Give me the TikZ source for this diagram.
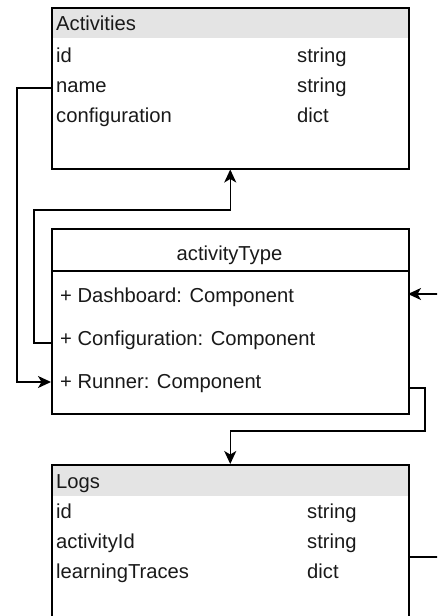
\documentclass[tikz,border=0pt]{standalone}
\usepackage{fontspec}
\setmainfont{Liberation Sans}
\usetikzlibrary{arrows.meta}
\definecolor{hdrgray}{HTML}{E4E4E4}
\begin{document}
\begin{tikzpicture}[x=1pt,y=-1pt,
  boxframe/.style={draw=black, line width=1.5pt, anchor=north west, inner sep=0pt, minimum width=357pt},
  hdrband/.style={fill=hdrgray, anchor=north west, inner sep=0pt, minimum width=357pt, minimum height=31pt},
  txt/.style={anchor=base west, inner sep=0pt, font=\fontsize{20.2}{24}\selectfont, text=black!90},
  link/.style={draw=black, line width=1.5pt},
  tipped/.style={-{Stealth[length=13pt,width=12pt,inset=3.5pt]}}]
\useasboundingbox (0,0) rectangle (437,616);
\begin{scope}
\clip (0,0) rectangle (437,616);

% --- Activities table ---
\node[hdrband] (acthdr) at (51,7) {};
\node[boxframe, minimum height=161pt] (act) at (51,7) {};
\node[txt] (acttitle) at (56,30) {Activities};
\node[txt] (actid) at (56,62) {id};
\node[txt] (actname) at (56,92) {name};
\node[txt] (actcfg) at (56,122) {configuration};
\node[txt] (actidT) at (297,62) {string};
\node[txt] (actnameT) at (297,92) {string};
\node[txt] (actcfgT) at (297,122) {dict};

% --- activityType class ---
\node[boxframe, minimum height=185pt] (typ) at (51,228) {};
\draw[link] (51,271) -- (408,271);
\node[txt, anchor=base] (typtitle) at (229.5,260) {activityType};
\node[txt] (typdash) at (60,302) {+ Dashboard: Component};
\node[txt] (typcfg) at (60,345) {+ Configuration: Component};
\node[txt] (typrun) at (60,388) {+ Runner: Component};

% --- Logs table ---
\node[hdrband, minimum height=32pt] (logshdr) at (51,464) {};
\node[boxframe, minimum height=200pt] (logs) at (51,464) {};
\node[txt] (logstitle) at (56,488) {Logs};
\node[txt] (logsid) at (56,518) {id};
\node[txt] (logsact) at (56,548) {activityId};
\node[txt] (logstr) at (56,578) {learningTraces};
\node[txt] (logsidT) at (307,518) {string};
\node[txt] (logsactT) at (307,548) {string};
\node[txt] (logstrT) at (307,578) {dict};

% --- ports on the table edges ---
\coordinate (actNamePort) at (51,88);
\coordinate (typCfgPort) at (51,343);
\coordinate (typRunPort) at (51,382);
\coordinate (typRunOut) at (408,388);
\coordinate (typDashPort) at (408,294);
\coordinate (logsOut) at (408,557);

% --- connectors ---
\draw[link, tipped] (actNamePort) -- (17,88) |- (typRunPort);
\draw[link, tipped] (typCfgPort) -| (34,210) -| (act.south);
\draw[link, tipped] (typRunOut) -| (425,431) -| (logs.north);
\draw[link, tipped] (logsOut) -| (450,294) -- (typDashPort);
\end{scope}
\end{tikzpicture}
\end{document}
